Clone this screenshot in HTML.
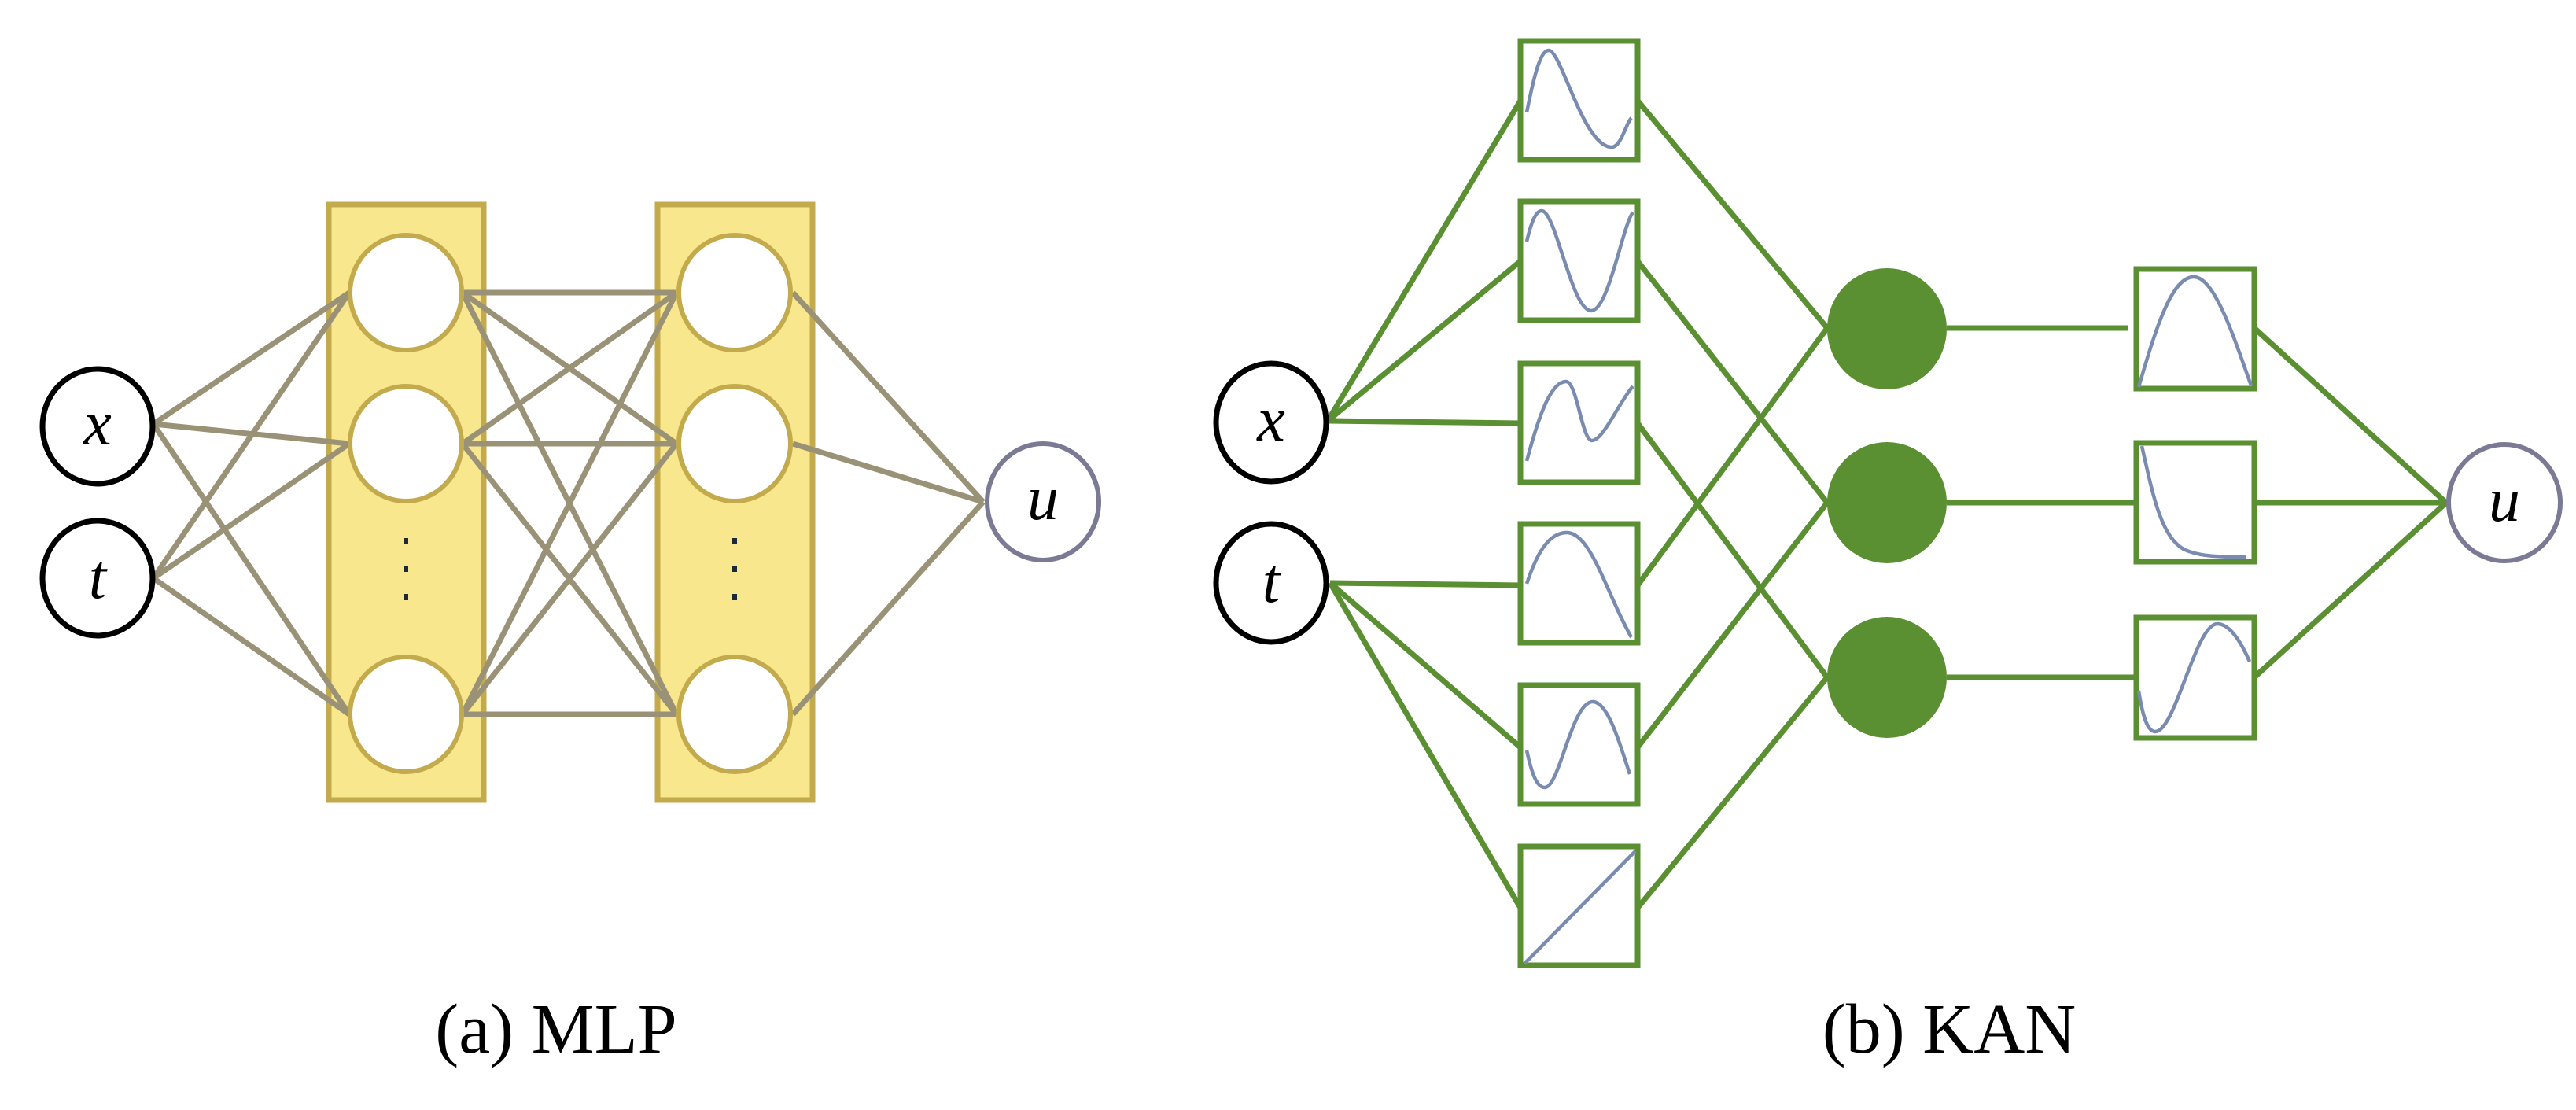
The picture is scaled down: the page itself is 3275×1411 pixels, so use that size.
<!DOCTYPE html>
<html><head><meta charset="utf-8"><style>
html,body{margin:0;padding:0;background:#fff;width:3275px;height:1411px;overflow:hidden}
</style></head><body>
<svg width="3275" height="1411" viewBox="0 0 3275 1411" xmlns="http://www.w3.org/2000/svg">
<!-- MLP -->
<rect x="418" y="260" width="197" height="757" fill="#f8e78c" stroke="#c3ab4d" stroke-width="7"/>
<rect x="836" y="260" width="197" height="757" fill="#f8e78c" stroke="#c3ab4d" stroke-width="7"/>
<g stroke="#9a9277" stroke-width="7" fill="none">
<line x1="195" y1="539" x2="444" y2="372"/>
<line x1="195" y1="539" x2="444" y2="564"/>
<line x1="195" y1="539" x2="444" y2="908"/>
<line x1="195" y1="735" x2="444" y2="372"/>
<line x1="195" y1="735" x2="444" y2="564"/>
<line x1="195" y1="735" x2="444" y2="908"/>
<line x1="588" y1="372" x2="860" y2="372"/>
<line x1="588" y1="372" x2="860" y2="564"/>
<line x1="588" y1="372" x2="860" y2="908"/>
<line x1="588" y1="564" x2="860" y2="372"/>
<line x1="588" y1="564" x2="860" y2="564"/>
<line x1="588" y1="564" x2="860" y2="908"/>
<line x1="588" y1="908" x2="860" y2="372"/>
<line x1="588" y1="908" x2="860" y2="564"/>
<line x1="588" y1="908" x2="860" y2="908"/>
<line x1="1008" y1="372" x2="1250" y2="638"/>
<line x1="1008" y1="564" x2="1250" y2="638"/>
<line x1="1008" y1="908" x2="1250" y2="638"/>
</g>
<g fill="#fff" stroke="#c3ab4d" stroke-width="6">
<ellipse cx="516" cy="372" rx="71" ry="73"/>
<ellipse cx="516" cy="564" rx="71" ry="73"/>
<ellipse cx="516" cy="908" rx="71" ry="73"/>
<ellipse cx="934" cy="372" rx="71" ry="73"/>
<ellipse cx="934" cy="564" rx="71" ry="73"/>
<ellipse cx="934" cy="908" rx="71" ry="73"/>
</g>
<g fill="#1a2a3a">
<rect x="513" y="684" width="6" height="8"/><rect x="513" y="719" width="6" height="8"/><rect x="513" y="755" width="6" height="8"/>
<rect x="931" y="684" width="6" height="8"/><rect x="931" y="719" width="6" height="8"/><rect x="931" y="755" width="6" height="8"/>
</g>
<g fill="#fff" stroke="#000" stroke-width="7">
<ellipse cx="124" cy="542" rx="70" ry="73"/>
<ellipse cx="124" cy="735" rx="70" ry="73"/>
</g>
<ellipse cx="1326" cy="638" rx="71" ry="74" fill="#fff" stroke="#7a7a94" stroke-width="6"/>
<!-- KAN -->
<g stroke="#5a8f32" stroke-width="7" fill="none">
<line x1="1688" y1="535" x2="1933" y2="128"/>
<line x1="1688" y1="535" x2="1933" y2="332"/>
<line x1="1688" y1="535" x2="1933" y2="538"/>
<line x1="1691" y1="741" x2="1933" y2="744"/>
<line x1="1691" y1="741" x2="1933" y2="950"/>
<line x1="1691" y1="741" x2="1933" y2="1154"/>
<line x1="2082" y1="128" x2="2323" y2="417"/>
<line x1="2082" y1="332" x2="2323" y2="639"/>
<line x1="2082" y1="538" x2="2323" y2="861"/>
<line x1="2082" y1="744" x2="2323" y2="417"/>
<line x1="2082" y1="950" x2="2323" y2="639"/>
<line x1="2082" y1="1154" x2="2323" y2="861"/>
<line x1="2475" y1="417" x2="2706" y2="417"/>
<line x1="2475" y1="639" x2="2716" y2="639"/>
<line x1="2475" y1="861" x2="2716" y2="861"/>
<line x1="2866" y1="417" x2="3110" y2="639"/>
<line x1="2866" y1="639" x2="3110" y2="639"/>
<line x1="2866" y1="861" x2="3110" y2="639"/>
</g>
<g fill="#fff" stroke="#000" stroke-width="7">
<ellipse cx="1616" cy="537" rx="70" ry="75"/>
<ellipse cx="1616" cy="741" rx="70" ry="75"/>
</g>
<g fill="#5a8f32">
<ellipse cx="2399" cy="418" rx="76" ry="77"/>
<ellipse cx="2399" cy="639" rx="76" ry="77"/>
<ellipse cx="2399" cy="861" rx="76" ry="77"/>
</g>
<g fill="#fff" stroke="#5a8f32" stroke-width="7">
<rect x="1933" y="52" width="149" height="151"/>
<rect x="1933" y="256" width="149" height="151"/>
<rect x="1933" y="462" width="149" height="151"/>
<rect x="1933" y="666" width="149" height="151"/>
<rect x="1933" y="871" width="149" height="151"/>
<rect x="1933" y="1076" width="149" height="151"/>
<rect x="2716" y="342" width="150" height="152"/>
<rect x="2716" y="563" width="150" height="151"/>
<rect x="2716" y="785" width="150" height="153"/>
</g>
<g stroke="#7a8bb0" stroke-width="4.5" fill="none">
<path transform="translate(1933,52)" d="M8,91 C18,40 26,12 36,12 C52,12 80,135 116,135 C128,135 134,105 141,98"/>
<path transform="translate(1933,256)" d="M8,51 C14,25 20,12 27,12 C45,12 65,139 90,139 C112,139 130,30 143,14"/>
<path transform="translate(1933,462)" d="M8,124 C25,60 40,23 58,23 C72,23 78,98 91,98 C105,98 125,50 143,29"/>
<path transform="translate(1933,666)" d="M8,76 C20,40 35,11 59,11 C90,11 110,90 141,144"/>
<path transform="translate(1933,871)" d="M8,83 C14,110 20,130 31,130 C50,130 65,21 92,21 C112,21 128,80 139,113"/>
<path transform="translate(1933,1076)" d="M5,149 L146,6"/>
<path transform="translate(2716,342)" d="M3,150 C25,75 45,10 73,10 C100,10 125,90 146,148"/>
<path transform="translate(2716,563)" d="M7,4 C20,60 30,118 60,135 C80,145 110,145 140,145"/>
<path transform="translate(2716,785)" d="M3,93 C8,125 14,145 24,145 C50,145 75,8 103,8 C120,8 135,35 144,56"/>
</g>
<ellipse cx="3184" cy="639" rx="71" ry="74" fill="#fff" stroke="#7a7a94" stroke-width="6"/>
<g font-family="Liberation Serif, serif" font-style="italic" font-size="80" text-anchor="middle">
<text x="124" y="565">x</text>
<text x="124" y="760">t</text>
<text x="1326" y="660">u</text>
<text x="1616" y="560">x</text>
<text x="1616" y="765">t</text>
<text x="3184" y="662">u</text>
</g>
<g font-family="Liberation Serif, serif" font-size="90" text-anchor="middle">
<text x="707" y="1338">(a) MLP</text>
<text x="2478" y="1338">(b) KAN</text>
</g>
</svg>
</body></html>
